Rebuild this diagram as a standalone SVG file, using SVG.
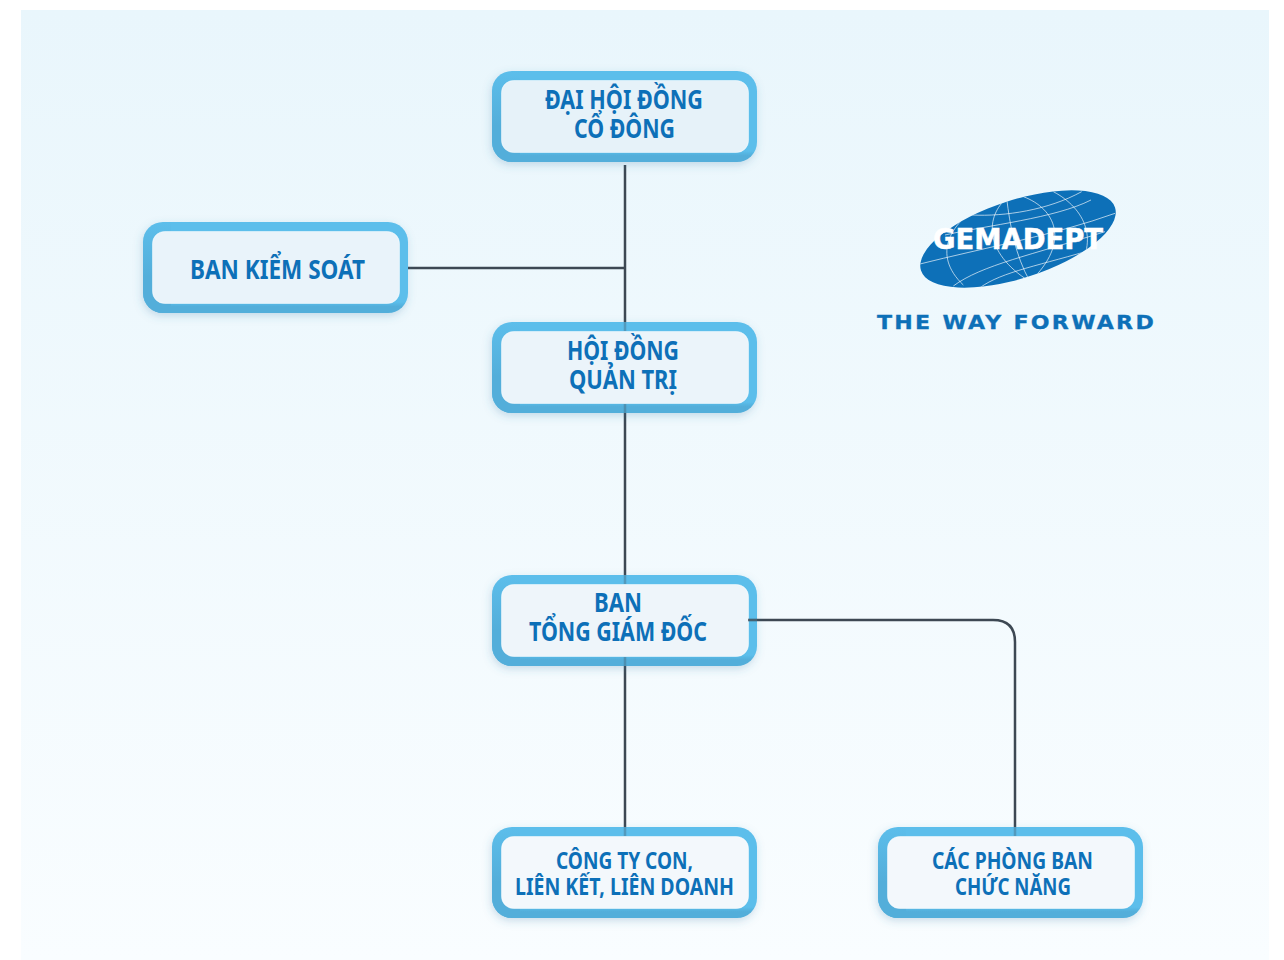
<svg xmlns="http://www.w3.org/2000/svg" width="1284" height="960" viewBox="0 0 1284 960">
<style>
.conn{fill:none;stroke:#3d4853;stroke-width:2.5}
.over{fill:none;stroke:#3d4853;stroke-width:2.5;stroke-opacity:.3}
.outer{fill:url(#edge);filter:url(#sh)}
.lft{fill:url(#left)}
.inner{stroke:#fff;stroke-opacity:.5;stroke-width:1}
.t{font-family:"Noto Sans","Liberation Sans",sans-serif;font-weight:700;fill:#0d70b8;font-size:26px}
.s{font-size:23px}
.g{fill:none;stroke:#fff;stroke-opacity:.65;stroke-width:3}
.lg{font-family:"DejaVu Sans","Liberation Sans",sans-serif;font-weight:700}
</style>
<defs>
<linearGradient id="bg" x1="0" y1="0" x2="0" y2="1"><stop offset="0" stop-color="#e9f6fc"/><stop offset="1" stop-color="#f9fdff"/></linearGradient>
<linearGradient id="edge" x1="0" y1="0" x2="0" y2="1"><stop offset="0" stop-color="#5bbeeb"/><stop offset=".88" stop-color="#5bbeeb"/><stop offset=".93" stop-color="#53aeda"/><stop offset="1" stop-color="#53aeda"/></linearGradient>
<linearGradient id="left" x1="0" y1="0" x2="0" y2="1"><stop offset="0" stop-color="#53aeda" stop-opacity="0"/><stop offset=".6" stop-color="#53aeda"/></linearGradient>
<filter id="sh" x="-10%" y="-20%" width="120%" height="145%"><feDropShadow dx="-1" dy="3" stdDeviation="4" flood-color="#3d7ea8" flood-opacity=".25"/></filter>
<clipPath id="globe"><ellipse cx="1018" cy="239" rx="102" ry="39" transform="rotate(-18 1018 239)"/></clipPath>
</defs>
<rect x="21" y="10" width="1248" height="950" fill="url(#bg)"/>
<g id="connectors">
<path class="conn" d="M625 165V334M408 268H625M625 405V582M625 658V834M750 620H993Q1015 620 1015 642V834"/>
</g>
<g id="node-dhdcd">
<rect class="outer" x="492" y="71" width="265" height="91" rx="20"/>
<path class="lft" d="M512 71a20 20 0 0 0-20 20v51a20 20 0 0 0 20 20h8V71z"/>
<rect class="inner" x="501.500" y="80.500" width="247" height="72" rx="12" fill="#e6f2f9"/>
<text class="t" x="545" y="109" textLength="158" lengthAdjust="spacingAndGlyphs">ĐẠI HỘI ĐỒNG</text>
<text class="t" x="574" y="138" textLength="101" lengthAdjust="spacingAndGlyphs">CỔ ĐÔNG</text>
</g>
<g id="node-bks">
<rect class="outer" x="143" y="222" width="265" height="91" rx="20"/>
<path class="lft" d="M163 222a20 20 0 0 0-20 20v51a20 20 0 0 0 20 20h8V222z"/>
<rect class="inner" x="152.500" y="231.500" width="247" height="72" rx="12" fill="#e9f3fa"/>
<text class="t" x="190" y="279" textLength="175" lengthAdjust="spacingAndGlyphs">BAN KIỂM SOÁT</text>
</g>
<g id="node-hdqt">
<rect class="outer" x="492" y="322" width="265" height="91" rx="20"/>
<path class="lft" d="M512 322a20 20 0 0 0-20 20v51a20 20 0 0 0 20 20h8V322z"/>
<rect class="inner" x="501.500" y="331.500" width="247" height="72" rx="12" fill="#ebf4fa"/>
<text class="t" x="567" y="360" textLength="112" lengthAdjust="spacingAndGlyphs">HỘI ĐỒNG</text>
<text class="t" x="569" y="389" textLength="108" lengthAdjust="spacingAndGlyphs">QUẢN TRỊ</text>
</g>
<g id="node-btgd">
<rect class="outer" x="492" y="575" width="265" height="91" rx="20"/>
<path class="lft" d="M512 575a20 20 0 0 0-20 20v51a20 20 0 0 0 20 20h8V575z"/>
<rect class="inner" x="501.500" y="584.500" width="247" height="72" rx="12" fill="#eef5fa"/>
<text class="t" x="594" y="612" textLength="48" lengthAdjust="spacingAndGlyphs">BAN</text>
<text class="t" x="529" y="641" textLength="178" lengthAdjust="spacingAndGlyphs">TỔNG GIÁM ĐỐC</text>
</g>
<g id="node-cty">
<rect class="outer" x="492" y="827" width="265" height="91" rx="20"/>
<path class="lft" d="M512 827a20 20 0 0 0-20 20v51a20 20 0 0 0 20 20h8V827z"/>
<rect class="inner" x="501.500" y="836.500" width="247" height="72" rx="12" fill="#f3f8fc"/>
<text class="t s" x="556" y="869" textLength="137" lengthAdjust="spacingAndGlyphs">CÔNG TY CON,</text>
<text class="t s" x="515" y="895" textLength="219" lengthAdjust="spacingAndGlyphs">LIÊN KẾT, LIÊN DOANH</text>
</g>
<g id="node-pb">
<rect class="outer" x="878" y="827" width="265" height="91" rx="20"/>
<path class="lft" d="M898 827a20 20 0 0 0-20 20v51a20 20 0 0 0 20 20h8V827z"/>
<rect class="inner" x="887.500" y="836.500" width="247" height="72" rx="12" fill="#f3f8fc"/>
<text class="t s" x="932" y="869" textLength="161" lengthAdjust="spacingAndGlyphs">CÁC PHÒNG BAN</text>
<text class="t s" x="955" y="895" textLength="116" lengthAdjust="spacingAndGlyphs">CHỨC NĂNG</text>
</g>
<g id="connector-tips">
<path class="over" d="M625 322V331M625 404V413M625 575V584M625 657V666M625 827V836M748 620H757M1015 827V836"/>
<path d="M748 620H757" class="conn" stroke-opacity=".7" style="stroke-opacity:.7"/>
</g>
<g id="logo">
<ellipse cx="1018" cy="239" rx="102" ry="39" transform="rotate(-18 1018 239)" fill="#0d70b8"/>
<g clip-path="url(#globe)"><g transform="translate(915 185) scale(.33333)">
<path class="g" d="M15 237C200 190 420 150 600 85M90 150C220 120 420 100 528 45M170 90C270 95 400 75 500 20M115 303C200 240 350 210 570 140M195 308C260 260 380 240 545 190M275 40C215 90 200 200 345 290M275 40C285 120 300 210 345 290M325 35C420 70 470 170 345 290M225 45C100 110 50 210 145 300M415 20C510 70 560 170 470 280"/>
</g></g>
<text class="lg" x="933" y="249" font-size="28" textLength="170" lengthAdjust="spacingAndGlyphs" fill="#fff" stroke="#fff" stroke-width=".5">GEMADEPT</text>
<text class="lg" x="877" y="329" font-size="19.500" letter-spacing="2" textLength="279" lengthAdjust="spacingAndGlyphs" fill="#0d70b8" stroke="#0d70b8" stroke-width=".3">THE WAY FORWARD</text>
</g>
</svg>
